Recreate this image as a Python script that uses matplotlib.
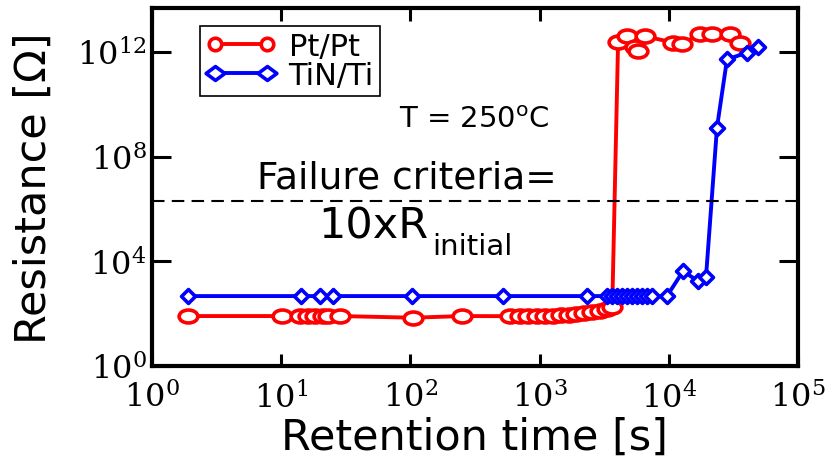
import matplotlib
matplotlib.use("Agg")
import matplotlib.pyplot as plt
from matplotlib.lines import Line2D
from matplotlib.path import Path
from matplotlib.transforms import Affine2D

# ------------------ data ------------------
red_t = [1.9, 10.1, 14.0, 16.1, 18.3, 21.2, 23.0, 28.5, 105, 251,
         590, 700, 820, 950, 1100, 1270, 1460, 1680, 1930, 2220, 2550, 2930, 3350, 3650,
         4050, 4750, 5480, 5780, 6540, 10800, 12650, 17400, 21600, 29800, 35600]
red_R = [81, 81, 81, 81, 81, 81, 81, 81, 70, 81,
         80, 80, 81, 82, 83, 85, 88, 92, 98, 105, 115, 128, 150, 180,
         2.5e12, 4.0e12, 1.6e12, 1.05e12, 4.0e12, 2.3e12, 2.1e12, 4.7e12, 4.7e12, 4.7e12, 2.3e12]

blue_t = [1.9, 14.2, 20, 25, 103, 520, 2330,
          3330, 3630, 3970, 4340, 4750, 5190, 5670, 6200, 6780, 7410, 9680,
          12900, 16800, 19400, 23600, 28200, 40300, 49000]
blue_R = [470] * 18 + [4250, 1750, 2500, 1.3e9, 5.2e11, 9.5e11, 1.5e12]

failure_R = 2e6

xticks = [1, 10, 100, 1e3, 1e4, 1e5]
xtick_labels = [r'$10^{0}$', r'$10^{1}$', r'$10^{2}$', r'$10^{3}$', r'$10^{4}$', r'$10^{5}$']
yticks = [1, 1e4, 1e8, 1e12]
ytick_labels = [r'$10^{0}$', r'$10^{4}$', r'$10^{8}$', r'$10^{12}$']

# ------------------ style ------------------
plt.rcParams['font.family'] = ['DejaVu Sans']
plt.rcParams['mathtext.fontset'] = 'dejavuserif'

# wide ellipse for the plotted "circles", diamond for TiN/Ti
ellipse = Path.unit_circle().transformed(Affine2D().scale(1.45, 1.0))
diamond = Path([(0, 1), (1, 0), (0, -1), (-1, 0), (0, 1)], closed=True)
wide_diamond = diamond.transformed(Affine2D().scale(1.35, 1.0))

fig = plt.figure(figsize=(8.25, 4.6), dpi=100)
ax = fig.add_axes([0.1842, 0.2022, 0.7831, 0.7782])

ax.plot(red_t, red_R, color='#ff0000', lw=2.8, marker=ellipse, ms=13.5,
        mfc='white', mec='#ff0000', mew=2.6, zorder=2)
ax.plot(blue_t, blue_R, color='#0000ff', lw=2.8, marker=diamond, ms=10,
        mfc='white', mec='#0000ff', mew=2.6, zorder=2.5)
ax.axhline(failure_R, color='k', lw=1.5, dashes=(6, 3.5), zorder=3)

ax.set_xscale('log')
ax.set_yscale('log')
ax.set_xlim(1, 1e5)
ax.set_ylim(1, 4.8e13)
ax.set_xticks(xticks, labels=xtick_labels)
ax.set_yticks(yticks, labels=ytick_labels)
ax.minorticks_off()

for s in ax.spines.values():
    s.set_linewidth(3)
ax.tick_params(axis='both', which='major', direction='in', top=True, right=True,
               width=2.2, labelsize=23)
ax.tick_params(axis='x', length=9, pad=11)
ax.tick_params(axis='y', length=14, pad=4)

ax.set_xlabel('Retention time [s]', fontsize=31, labelpad=1)
ax.set_ylabel('Resistance [Ω]', fontsize=31, labelpad=16)

ax.text(0.499, 0.690, r'T = 250$^\mathsf{o}$C', transform=ax.transAxes,
        ha='center', va='center', fontsize=21)
ax.text(0.395, 0.500, 'Failure criteria=', transform=ax.transAxes,
        ha='center', va='baseline', fontsize=27)
ax.text(0.257, 0.360, '10xR', transform=ax.transAxes,
        ha='left', va='baseline', fontsize=31)
ax.text(0.434, 0.313, 'initial', transform=ax.transAxes,
        ha='left', va='baseline', fontsize=21)

h_red = Line2D([], [], color='#ff0000', lw=2.8, marker='o', ms=9,
               mfc='white', mec='#ff0000', mew=2.6)
h_blue = Line2D([], [], color='#0000ff', lw=2.8, marker=wide_diamond, ms=13.5,
                mfc='white', mec='#0000ff', mew=2.6)
leg = ax.legend([h_red, h_blue], ['Pt/Pt', 'TiN/Ti'], loc='upper left',
                bbox_to_anchor=(0.0743, 0.9497), borderaxespad=0, fontsize=22,
                numpoints=2, handlelength=2.3, handletextpad=0.4, labelspacing=0.0,
                borderpad=0.2, fancybox=False, framealpha=1, edgecolor='black')
leg.get_frame().set_linewidth(1.2)

fig.savefig('out.png', dpi=100)
